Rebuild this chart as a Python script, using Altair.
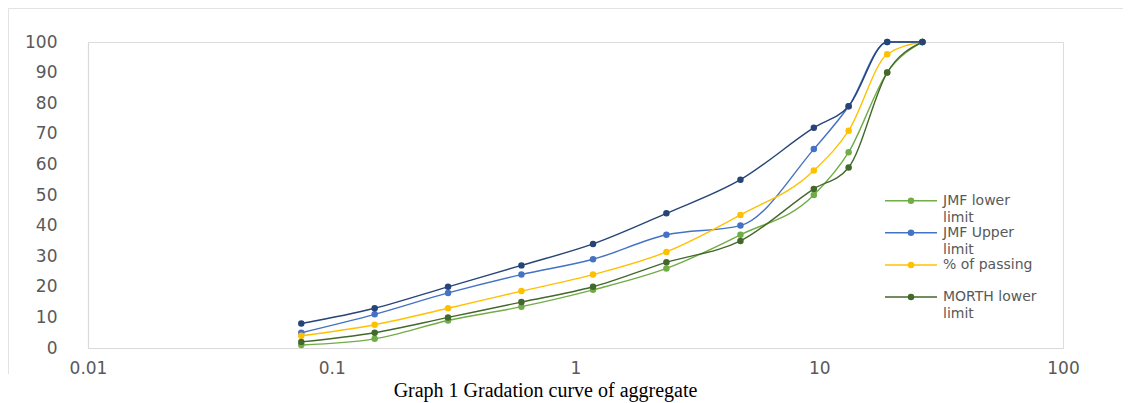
import altair as alt
import pandas as pd

# Sieve sizes (mm) and cumulative % passing
sieve_mm = [0.075, 0.15, 0.3, 0.6, 1.18, 2.36, 4.75, 9.5, 13.2, 19, 26.5]
jmf_lower = [1, 3, 9, 13.5, 19, 26, 37, 50, 64, 90, 100]
jmf_upper = [5, 11, 18, 24, 29, 37, 40, 65, 79, 100, 100]
passing = [4, 7.6, 13, 18.6, 24, 31.4, 43.5, 58, 71, 96, 100]
morth_lower = [2, 5, 10, 15, 20, 28, 35, 52, 59, 90, 100]
morth_upper = [8, 13, 20, 27, 34, 44, 55, 72, 79, 100, 100]

legend_series = ["JMF lower limit", "JMF Upper limit", "% of passing", "MORTH lower limit"]
legend_labels = ["JMF lower\nlimit", "JMF Upper\nlimit", "% of passing", "MORTH lower\nlimit"]
legend_colors = ["#70AD47", "#4472C4", "#FFC000", "#43682B"]
extra_series = "MORTH upper limit"
extra_color = "#264478"

x_ticks = [0.01, 0.1, 1, 10, 100]
y_ticks = [0, 10, 20, 30, 40, 50, 60, 70, 80, 90, 100]
title_text = "Graph 1 Gradation curve of aggregate"

rows = []
for name, vals in zip(legend_series, [jmf_lower, jmf_upper, passing, morth_lower]):
    for s, v in zip(sieve_mm, vals):
        rows.append({"series": name, "sieve": s, "pct": v})
df = pd.DataFrame(rows)
df_extra = pd.DataFrame({"series": extra_series, "sieve": sieve_mm, "pct": morth_upper})

axis_grey = "#D9D9D9"
label_grey = "#595959"
font = "DejaVu Sans"

x_enc = alt.X(
    "sieve:Q",
    scale=alt.Scale(type="log", domain=[0.01, 100]),
    axis=alt.Axis(values=x_ticks, format="~g", grid=False, ticks=False, tickSize=0,
                  domainColor=axis_grey, domainWidth=1.2, labelColor=label_grey,
                  labelFont=font, labelFontSize=17, labelPadding=12, labelFlush=False,
                  labelOverlap=False, title=None),
)
y_enc = alt.Y(
    "pct:Q",
    scale=alt.Scale(domain=[0, 100], nice=False, zero=True),
    axis=alt.Axis(values=y_ticks, grid=False, ticks=False, tickSize=0,
                  domainColor=axis_grey, domainWidth=1.2, labelColor=label_grey,
                  labelFont=font, labelFontSize=17, labelPadding=31, labelOverlap=False,
                  labelFlush=False, title=None),
)

color_scale = alt.Scale(domain=legend_series, range=legend_colors)

lines = alt.Chart(df).mark_line(interpolate="monotone", strokeWidth=1.4).encode(
    x=x_enc, y=y_enc, color=alt.Color("series:N", scale=color_scale, legend=None), detail="series:N"
)
points = alt.Chart(df).mark_point(filled=True, size=42, opacity=1).encode(
    x=x_enc, y=y_enc, color=alt.Color("series:N", scale=color_scale, legend=None),
)
extra_line = alt.Chart(df_extra).mark_line(interpolate="monotone", strokeWidth=1.4, color=extra_color).encode(
    x=x_enc, y=y_enc
)
extra_points = alt.Chart(df_extra).mark_point(filled=True, size=42, opacity=1, color=extra_color).encode(
    x=x_enc, y=y_enc
)

frame_top = alt.Chart(df_extra).mark_rule(color="#E3E3E3", strokeWidth=1, clip=False).encode(
    x=alt.value(-80), x2=alt.value(1060), y=alt.value(-33.5)
)
frame_left = alt.Chart(df_extra).mark_rule(color="#E3E3E3", strokeWidth=1, clip=False).encode(
    x=alt.value(-79.5), y=alt.value(-33.5), y2=alt.value(332)
)

# legend, built as small layers (one row per series)
legend_layers = []
row_y0, row_step = 158.7, 32.1
for i, (name, lab, col) in enumerate(zip(legend_series, legend_labels, legend_colors)):
    ldf = pd.DataFrame({"series": [name], "label": [lab]})
    yy = row_y0 + i * row_step
    base = alt.Chart(ldf)
    legend_layers.append(base.mark_rule(color=col, strokeWidth=1.5, clip=False).encode(
        x=alt.value(797), x2=alt.value(849), y=alt.value(yy)))
    legend_layers.append(base.mark_point(filled=True, size=42, opacity=1, color=col, clip=False).encode(
        x=alt.value(823), y=alt.value(yy)))
    legend_layers.append(base.mark_text(
        align="left", baseline="middle", font=font, fontSize=14, color=label_grey,
        lineBreak="\n", lineHeight=17, clip=False).encode(
        x=alt.value(855), y=alt.value(yy), text="label:N"))

chart = alt.layer(lines, points, extra_line, extra_points, frame_top, frame_left, *legend_layers).properties(
    width=975,
    height=306,
    autosize=alt.AutoSizeParams(type="none"),
    padding={"left": 80, "top": 34, "right": 60, "bottom": 54},
    title=alt.TitleParams(
        text=title_text, orient="bottom", anchor="middle", font="Liberation Serif",
        fontSize=20, fontWeight="normal", color="black", dx=-30, offset=5,
    ),
).configure_view(stroke=None).configure(background="white")

chart.save("out.html", embed_options={"renderer": "svg", "actions": False})
